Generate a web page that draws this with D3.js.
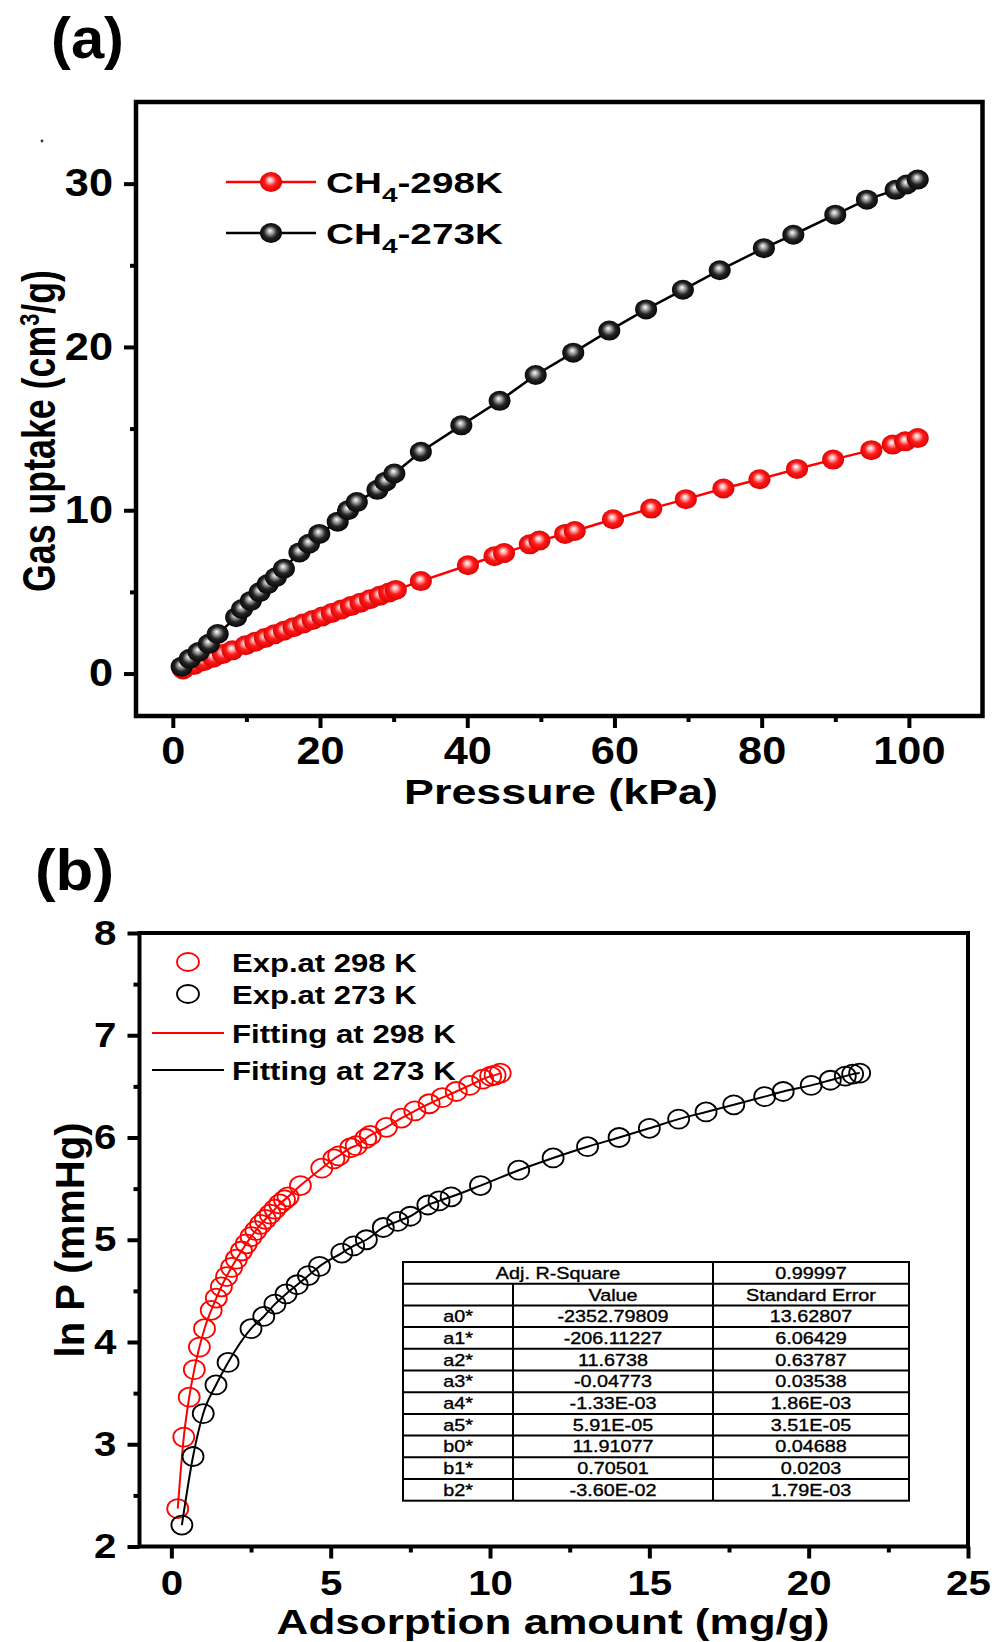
<!DOCTYPE html>
<html>
<head>
<meta charset="utf-8">
<script src="https://cdn.jsdelivr.net/npm/d3@7/dist/d3.min.js"></script>
<style>
  html, body { margin: 0; padding: 0; background: #fff; }
  svg { display: block; }
  text { font-family: "Liberation Sans", Arial, Helvetica, sans-serif; fill: #000; }
</style>
</head>
<body>
<svg id="fig" width="995" height="1642"></svg>
<script>
// ---------- (a) CH4 uptake isotherms ----------
const pressure298 = [1.4, 2.9, 4.2, 5.5, 6.8, 8.1, 9.9, 11.2, 12.5, 13.8, 15.1, 16.4, 17.7, 19.0, 20.3, 21.6, 22.9, 24.2, 25.5, 26.8, 28.1, 29.4, 30.3, 33.7, 40.1, 43.7, 45.0, 48.5, 49.8, 53.3, 54.6, 59.8, 65.0, 69.7, 74.8, 79.7, 84.8, 89.7, 94.9, 97.8, 99.5, 101.2];
const uptake298   = [0.25, 0.52, 0.75, 0.97, 1.2, 1.42, 1.73, 1.95, 2.17, 2.4, 2.62, 2.84, 3.06, 3.28, 3.49, 3.71, 3.92, 4.13, 4.34, 4.55, 4.76, 4.97, 5.12, 5.66, 6.63, 7.18, 7.38, 7.91, 8.14, 8.55, 8.73, 9.45, 10.1, 10.68, 11.33, 11.9, 12.53, 13.1, 13.68, 14.02, 14.22, 14.42];
const pressure273 = [1.2, 2.3, 3.5, 4.9, 6.1, 8.6, 9.4, 10.6, 11.8, 12.9, 14.0, 15.1, 17.2, 18.5, 19.9, 22.4, 23.8, 25.0, 27.8, 28.9, 30.1, 33.7, 39.2, 44.4, 49.3, 54.4, 59.3, 64.3, 69.3, 74.3, 80.3, 84.3, 90.0, 94.3, 98.2, 99.7, 101.2];
const uptake273   = [0.42, 0.9, 1.32, 1.82, 2.42, 3.45, 3.95, 4.45, 4.98, 5.48, 5.9, 6.42, 7.42, 7.95, 8.55, 9.3, 10.0, 10.5, 11.25, 11.75, 12.25, 13.58, 15.2, 16.7, 18.28, 19.65, 21.0, 22.3, 23.5, 24.7, 26.05, 26.87, 28.1, 29.02, 29.62, 29.95, 30.25];
const seriesTempsA = ["298K", "273K"];
const xTicksA = [0, 20, 40, 60, 80, 100];
const xMinorA = [10, 30, 50, 70, 90];
const yTicksA = [0, 10, 20, 30];
const yMinorA = [5, 15, 25];

// ---------- (b) ln P versus adsorption amount, virial fitting ----------
const amount298 = [0.2, 0.39, 0.56, 0.72, 0.88, 1.04, 1.25, 1.41, 1.57, 1.73, 1.89, 2.04, 2.2, 2.35, 2.5, 2.65, 2.8, 2.95, 3.1, 3.25, 3.4, 3.55, 3.66, 4.05, 4.72, 5.1, 5.25, 5.63, 5.8, 6.1, 6.24, 6.75, 7.22, 7.64, 8.09, 8.5, 8.94, 9.36, 9.77, 10.02, 10.16, 10.32];
const lnP298    = [2.37, 3.07, 3.46, 3.73, 3.95, 4.13, 4.31, 4.43, 4.54, 4.64, 4.73, 4.81, 4.89, 4.96, 5.03, 5.09, 5.15, 5.2, 5.25, 5.3, 5.35, 5.39, 5.42, 5.53, 5.7, 5.79, 5.82, 5.9, 5.92, 5.99, 6.02, 6.1, 6.19, 6.26, 6.33, 6.39, 6.45, 6.51, 6.57, 6.6, 6.61, 6.63];
const amount273 = [0.33, 0.68, 1.0, 1.4, 1.78, 2.5, 2.9, 3.25, 3.6, 3.95, 4.3, 4.65, 5.35, 5.72, 6.12, 6.65, 7.1, 7.5, 8.05, 8.4, 8.78, 9.7, 10.9, 11.98, 13.06, 14.05, 15.0, 15.92, 16.78, 17.65, 18.62, 19.2, 20.08, 20.68, 21.15, 21.38, 21.6];
const lnP273    = [2.21, 2.88, 3.3, 3.58, 3.8, 4.13, 4.25, 4.37, 4.47, 4.56, 4.65, 4.74, 4.87, 4.94, 5.0, 5.12, 5.18, 5.23, 5.34, 5.38, 5.42, 5.53, 5.68, 5.8, 5.91, 6.0, 6.09, 6.18, 6.25, 6.32, 6.4, 6.45, 6.51, 6.56, 6.6, 6.62, 6.63];
const legendB = ["Exp.at 298 K", "Exp.at 273 K", "Fitting at 298 K", "Fitting at 273 K"];
const xTicksB = [0, 5, 10, 15, 20, 25];
const xMinorB = [2.5, 7.5, 12.5, 17.5, 22.5];
const yTicksB = [2, 3, 4, 5, 6, 7, 8];
const yMinorB = [2.5, 3.5, 4.5, 5.5, 6.5, 7.5];

// fitting parameter table
const fitR2Label = "Adj. R-Square";
const fitR2 = "0.99997";
const tableHead = ["", "Value", "Standard Error"];
const paramNames  = ["a0*", "a1*", "a2*", "a3*", "a4*", "a5*", "b0*", "b1*", "b2*"];
const paramValues = ["-2352.79809", "-206.11227", "11.6738", "-0.04773", "-1.33E-03", "5.91E-05", "11.91077", "0.70501", "-3.60E-02"];
const paramErrors = ["13.62807", "6.06429", "0.63787", "0.03538", "1.86E-03", "3.51E-05", "0.04688", "0.0203", "1.79E-03"];

const RED = "#ff0000", BLACK = "#000000";
const svg = d3.select("#fig");

// ---------- scales ----------
const xA = d3.scaleLinear().domain([-5, 110]).range([136, 982.5]);
const yA = d3.scaleLinear().domain([-2.6, 35]).range([716, 102]);
const xB = d3.scaleLinear().domain([-1, 25]).range([139.5, 968]);
const yB = d3.scaleLinear().domain([2, 8]).range([1546.5, 933]);

// ---------- helpers ----------
// squeeze/stretch a text element horizontally so that its length becomes targetW
function fitText(t, x, y, targetW, rotated) {
  const w = t.node().getBBox().width;
  const s = targetW / w;
  t.attr("transform", `translate(${x},${y})${rotated ? " rotate(-90)" : ""} scale(${s},1)`);
  return t;
}
// widen axis tick labels by a fixed factor
function widenTicks(g, s, size) {
  g.selectAll(".tick text").each(function () {
    const t = d3.select(this);
    const x = +t.attr("x") || 0;
    t.attr("x", null)
      .attr("font-size", size).attr("font-weight", "bold")
      .attr("font-family", "'Liberation Sans', Arial, sans-serif")
      .attr("fill", "#000")
      .attr("transform", `translate(${x},0) scale(${s},1)`);
  });
}
function styleAxis(g) {
  g.select(".domain").remove();
  g.selectAll(".tick line").attr("stroke", "#000").attr("stroke-width", 4);
}
const intFmt = d3.format("d");

// ---------- sphere markers ----------
const defs = svg.append("defs");
function sphere(id, stops) {
  const gr = defs.append("radialGradient").attr("id", id)
    .attr("cx", "50%").attr("cy", "50%").attr("r", "55%").attr("fx", "45%").attr("fy", "38%");
  stops.forEach(([o, c]) => gr.append("stop").attr("offset", o).attr("stop-color", c));
}
sphere("ballRed",   [[0, "#ffffff"], [0.2, "#ffb4b4"], [0.5, "#ff1a1a"], [1, "#d40000"]]);
sphere("ballBlack", [[0, "#ffffff"], [0.2, "#b4b4b4"], [0.55, "#242424"], [1, "#000000"]]);

// =====================================================================
// Panel (a)
// =====================================================================
const gA = svg.append("g");

gA.append("g").attr("transform", `translate(0,${yA.range()[0]})`)
  .call(d3.axisBottom(xA).tickValues(xMinorA).tickSize(6).tickFormat(""))
  .call(styleAxis);
const axA = gA.append("g").attr("transform", `translate(0,${yA.range()[0]})`)
  .call(d3.axisBottom(xA).tickValues(xTicksA).tickFormat(intFmt).tickSize(12).tickPadding(9))
  .call(styleAxis);
widenTicks(axA, 1.14, 38);

gA.append("g").attr("transform", `translate(${xA.range()[0]},0)`)
  .call(d3.axisLeft(yA).tickValues(yMinorA).tickSize(6).tickFormat(""))
  .call(styleAxis);
const ayA = gA.append("g").attr("transform", `translate(${xA.range()[0]},0)`)
  .call(d3.axisLeft(yA).tickValues(yTicksA).tickFormat(intFmt).tickSize(12).tickPadding(11))
  .call(styleAxis);
widenTicks(ayA, 1.14, 38);

const seriesA = [
  { p: pressure298, v: uptake298, color: RED, fill: "url(#ballRed)" },
  { p: pressure273, v: uptake273, color: BLACK, fill: "url(#ballBlack)" }
];
const lineA = d3.line().x(d => xA(d[0])).y(d => yA(d[1]));
seriesA.forEach(s => {
  const pts = s.p.map((p, i) => [p, s.v[i]]);
  gA.append("path").datum(pts).attr("d", lineA)
    .attr("fill", "none").attr("stroke", s.color).attr("stroke-width", 2.5);
  gA.selectAll(null).data(pts).join("ellipse")
    .attr("cx", d => xA(d[0])).attr("cy", d => yA(d[1]))
    .attr("rx", 11).attr("ry", 10).attr("fill", s.fill);
});

gA.append("rect").attr("x", xA.range()[0]).attr("y", yA.range()[1])
  .attr("width", xA.range()[1] - xA.range()[0]).attr("height", yA.range()[0] - yA.range()[1])
  .attr("fill", "none").attr("stroke", "#000").attr("stroke-width", 4.5);

// legend
const legRowsA = [182, 233];
seriesA.forEach((s, i) => {
  const y = legRowsA[i];
  gA.append("line").attr("x1", 226).attr("x2", 316).attr("y1", y).attr("y2", y)
    .attr("stroke", s.color).attr("stroke-width", 2.5);
  gA.append("ellipse").attr("cx", 271).attr("cy", y).attr("rx", 11).attr("ry", 10).attr("fill", s.fill);
  const t = gA.append("text").attr("font-size", 29).attr("font-weight", "bold");
  t.append("tspan").text("CH");
  t.append("tspan").attr("font-size", 21).attr("dy", 9).text("4");
  t.append("tspan").attr("dy", -9).text("-" + seriesTempsA[i]);
  fitText(t, 326, y + 11, 177, false);
});

// axis titles
fitText(gA.append("text").attr("font-size", 35).attr("font-weight", "bold")
  .attr("text-anchor", "middle").text("Pressure (kPa)"), 561, 804, 314, false);
{
  const t = gA.append("text").attr("font-size", 46).attr("font-weight", "bold").attr("text-anchor", "middle");
  t.append("tspan").text("Gas uptake (cm");
  t.append("tspan").attr("font-size", 28).attr("dy", -16).text("3");
  t.append("tspan").attr("dy", 16).text("/g)");
  fitText(t, 55, 431, 322, true);
}
fitText(gA.append("text").attr("font-size", 58).attr("font-weight", "bold").text("(a)"), 51, 58, 73, false);
gA.append("circle").attr("cx", 42).attr("cy", 141).attr("r", 1.4).attr("fill", "#333");

// =====================================================================
// Panel (b)
// =====================================================================
const gB = svg.append("g");

gB.append("g").attr("transform", `translate(0,${yB.range()[0]})`)
  .call(d3.axisBottom(xB).tickValues(xMinorB).tickSize(6).tickFormat(""))
  .call(styleAxis);
const axB = gB.append("g").attr("transform", `translate(0,${yB.range()[0]})`)
  .call(d3.axisBottom(xB).tickValues(xTicksB).tickFormat(intFmt).tickSize(12).tickPadding(12))
  .call(styleAxis);
widenTicks(axB, 1.15, 35);

gB.append("g").attr("transform", `translate(${xB.range()[0]},0)`)
  .call(d3.axisLeft(yB).tickValues(yMinorB).tickSize(6).tickFormat(""))
  .call(styleAxis);
const ayB = gB.append("g").attr("transform", `translate(${xB.range()[0]},0)`)
  .call(d3.axisLeft(yB).tickValues(yTicksB).tickFormat(intFmt).tickSize(12).tickPadding(11))
  .call(styleAxis);
widenTicks(ayB, 1.15, 35);

const seriesB = [
  { x: amount298, y: lnP298, color: RED },
  { x: amount273, y: lnP273, color: BLACK }
];
const fitLine = d3.line().curve(d3.curveMonotoneX).x(d => xB(d[0])).y(d => yB(d[1]));
seriesB.forEach(s => {
  const pts = s.x.map((v, i) => [v, s.y[i]]);
  gB.selectAll(null).data(pts).join("ellipse")
    .attr("cx", d => xB(d[0])).attr("cy", d => yB(d[1]))
    .attr("rx", 10.5).attr("ry", 9.5)
    .attr("fill", "none").attr("stroke", s.color).attr("stroke-width", 1.8);
  gB.append("path").datum(pts).attr("d", fitLine)
    .attr("fill", "none").attr("stroke", s.color).attr("stroke-width", 2);
});

gB.append("rect").attr("x", xB.range()[0]).attr("y", yB.range()[1])
  .attr("width", xB.range()[1] - xB.range()[0]).attr("height", yB.range()[0] - yB.range()[1])
  .attr("fill", "none").attr("stroke", "#000").attr("stroke-width", 4);

// legend
const legRowsB = [962, 994, 1033, 1070];
const legWidthsB = [185, 185, 224, 224];
legendB.forEach((name, i) => {
  const y = legRowsB[i];
  const color = i % 2 === 0 ? RED : BLACK;
  if (i < 2) {
    gB.append("ellipse").attr("cx", 188).attr("cy", y).attr("rx", 11).attr("ry", 9)
      .attr("fill", "none").attr("stroke", color).attr("stroke-width", 1.8);
  } else {
    gB.append("line").attr("x1", 152).attr("x2", 224).attr("y1", y).attr("y2", y)
      .attr("stroke", color).attr("stroke-width", 2);
  }
  fitText(gB.append("text").attr("font-size", 26).attr("font-weight", "bold").text(name),
    232, y + 9.5, legWidthsB[i], false);
});

// axis titles
fitText(gB.append("text").attr("font-size", 35).attr("font-weight", "bold")
  .attr("text-anchor", "middle").text("Adsorption amount (mg/g)"), 553, 1634, 553, false);
fitText(gB.append("text").attr("font-size", 40).attr("font-weight", "bold")
  .attr("text-anchor", "middle").text("ln P (mmHg)"), 84, 1240, 235, true);
fitText(gB.append("text").attr("font-size", 58).attr("font-weight", "bold").text("(b)"), 35, 890, 79, false);

// fitting parameter table
const tb = gB.append("g");
const colX = [403, 513, 713, 909];
const rowTop = 1262, rowH = 21.7;
const rows = [[fitR2Label, null, fitR2], tableHead]
  .concat(paramNames.map((n, i) => [n, paramValues[i], paramErrors[i]]));
const nRows = rows.length;
tb.append("rect").attr("x", colX[0]).attr("y", rowTop)
  .attr("width", colX[3] - colX[0]).attr("height", rowH * nRows)
  .attr("fill", "#fff").attr("stroke", "#000").attr("stroke-width", 2);
d3.range(1, nRows).forEach(r => {
  tb.append("line").attr("x1", colX[0]).attr("x2", colX[3])
    .attr("y1", rowTop + r * rowH).attr("y2", rowTop + r * rowH)
    .attr("stroke", "#000").attr("stroke-width", 2);
});
tb.append("line").attr("x1", colX[2]).attr("x2", colX[2])
  .attr("y1", rowTop).attr("y2", rowTop + nRows * rowH).attr("stroke", "#000").attr("stroke-width", 2);
tb.append("line").attr("x1", colX[1]).attr("x2", colX[1])
  .attr("y1", rowTop + rowH).attr("y2", rowTop + nRows * rowH).attr("stroke", "#000").attr("stroke-width", 2);
rows.forEach((row, r) => {
  const yb = rowTop + r * rowH + rowH / 2 + 6;
  const cells = r === 0
    ? [[(colX[0] + colX[2]) / 2, row[0]], [(colX[2] + colX[3]) / 2, row[2]]]
    : row.map((c, k) => [(colX[k] + colX[k + 1]) / 2, c]);
  cells.forEach(([cx, str]) => {
    if (!str) return;
    tb.append("text").attr("font-size", 16.5).attr("text-anchor", "middle")
      .attr("stroke", "#000").attr("stroke-width", 0.35)
      .attr("transform", `translate(${cx},${yb}) scale(1.2,1)`).text(str);
  });
});
</script>
</body>
</html>
